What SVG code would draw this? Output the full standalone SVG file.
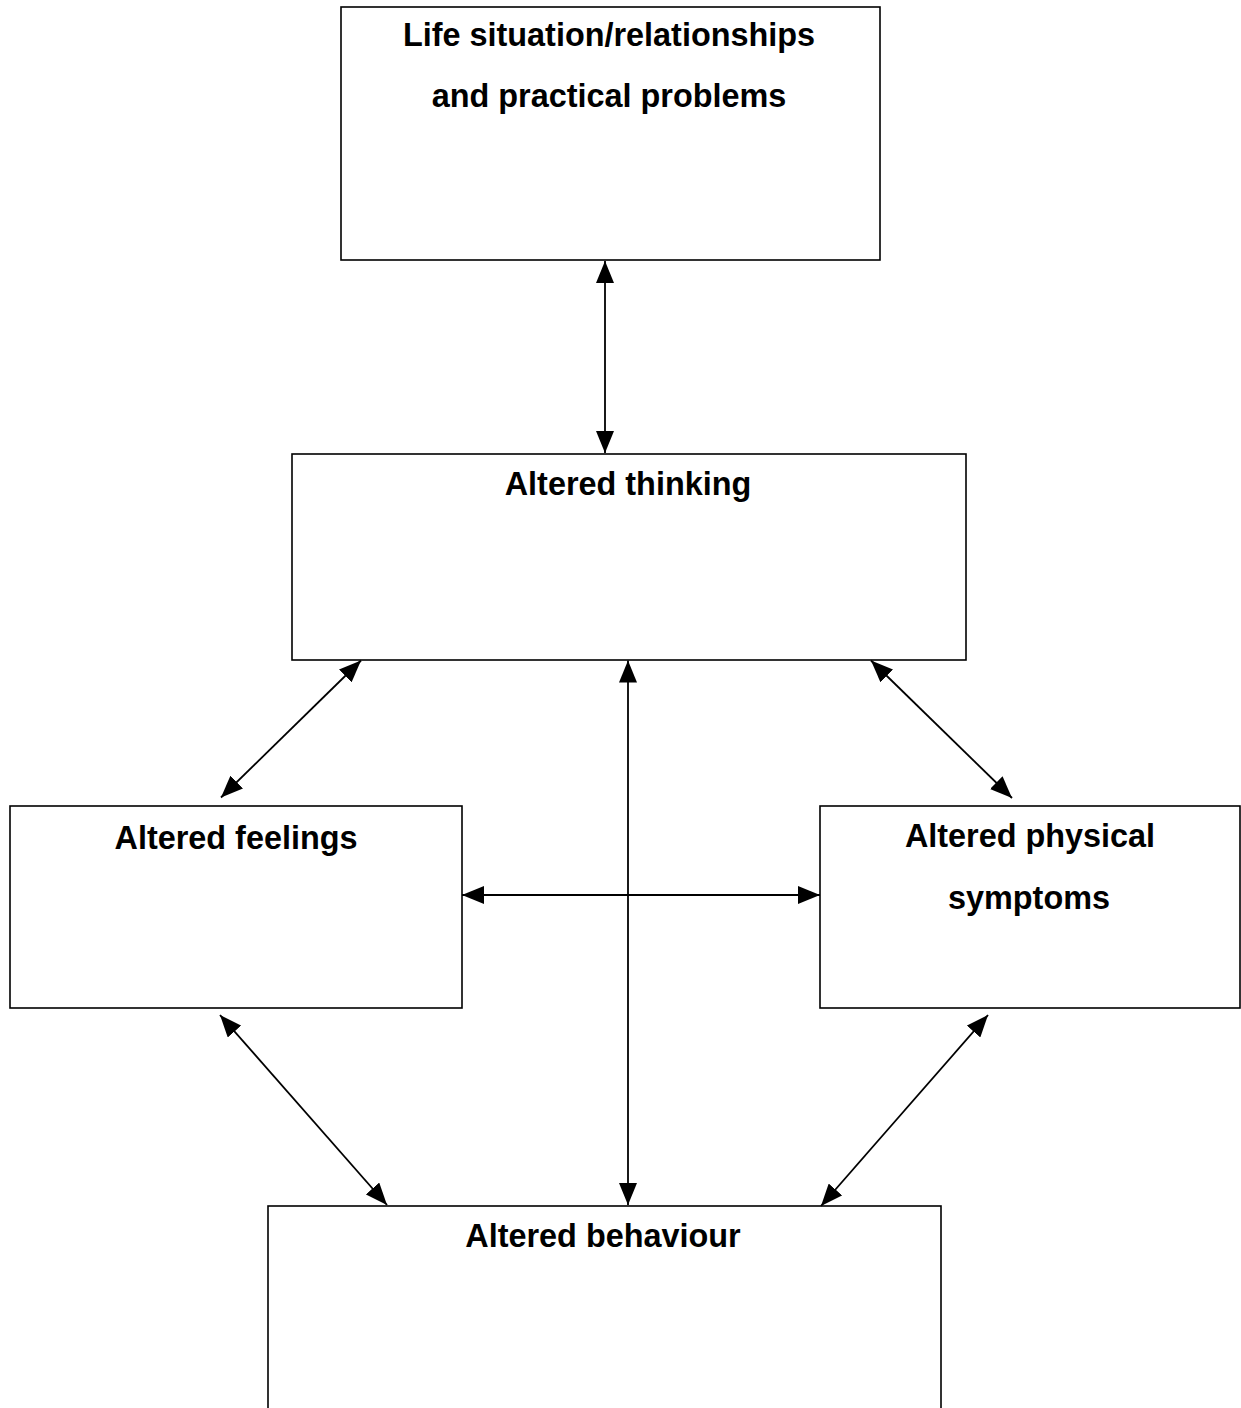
<svg xmlns="http://www.w3.org/2000/svg" width="1241" height="1408" viewBox="0 0 1241 1408">
<style>
.box{fill:#fff;stroke:#000;stroke-width:1.6}
.lbl{font-family:"Liberation Sans",Arial,sans-serif;font-weight:bold;font-size:32.4px;fill:#000;text-anchor:middle}
.conn line{stroke:#000;stroke-width:1.8}
</style>
<defs>
<marker id="ah" viewBox="0 0 22 18" refX="22" refY="9" markerWidth="22" markerHeight="18" markerUnits="userSpaceOnUse" orient="auto-start-reverse">
<path d="M0,0 L22,9 L0,18 Z" fill="#000"/>
</marker>
</defs>
<rect width="1241" height="1408" fill="#fff"/>
<g id="life">
<rect class="box" x="341" y="7" width="539" height="253"/>
<text class="lbl" x="609" y="46">Life situation/relationships</text>
<text class="lbl" x="609" y="107">and practical problems</text>
</g>
<g id="thinking">
<rect class="box" x="292" y="454" width="674" height="206"/>
<text class="lbl" x="628" y="495">Altered thinking</text>
</g>
<g id="feelings">
<rect class="box" x="10" y="806" width="452" height="202"/>
<text class="lbl" x="236" y="849">Altered feelings</text>
</g>
<g id="physical">
<rect class="box" x="820" y="806" width="420" height="202"/>
<text class="lbl" x="1030" y="847">Altered physical</text>
<text class="lbl" x="1029" y="909">symptoms</text>
</g>
<g id="behaviour">
<rect class="box" x="268" y="1206" width="673" height="210"/>
<text class="lbl" x="603" y="1247">Altered behaviour</text>
</g>
<g id="connectors" class="conn">
<line x1="605" y1="261" x2="605" y2="453" marker-start="url(#ah)" marker-end="url(#ah)"/>
<line x1="361" y1="660.5" x2="221" y2="797.5" marker-start="url(#ah)" marker-end="url(#ah)"/>
<line x1="871" y1="660.5" x2="1012" y2="798" marker-start="url(#ah)" marker-end="url(#ah)"/>
<line x1="628" y1="660.5" x2="628" y2="1205" marker-start="url(#ah)" marker-end="url(#ah)"/>
<line x1="462" y1="895" x2="820" y2="895" marker-start="url(#ah)" marker-end="url(#ah)"/>
<line x1="220" y1="1015" x2="387" y2="1205" marker-start="url(#ah)" marker-end="url(#ah)"/>
<line x1="988" y1="1015" x2="821" y2="1206" marker-start="url(#ah)" marker-end="url(#ah)"/>
</g>
</svg>
